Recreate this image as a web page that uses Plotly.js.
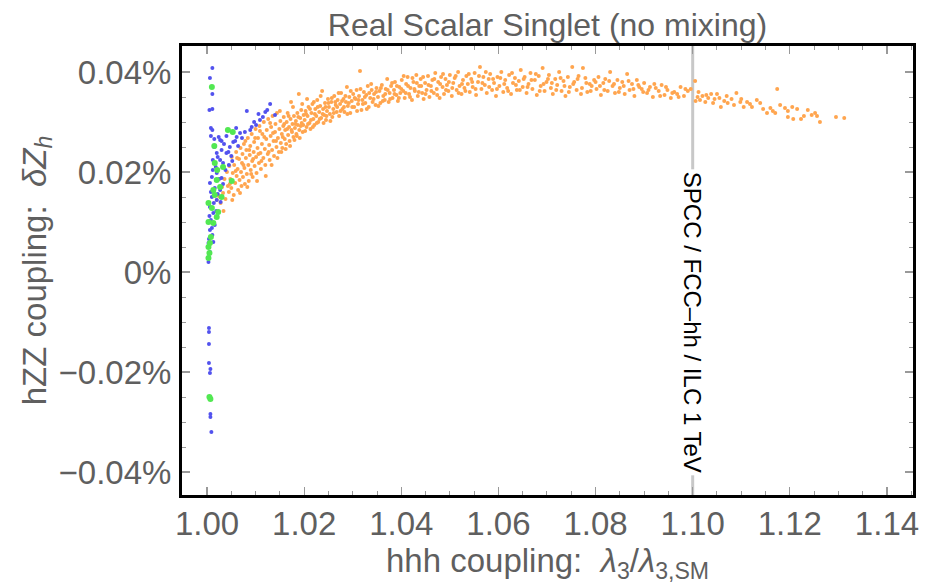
<!DOCTYPE html>
<html><head><meta charset="utf-8">
<script src="https://cdn.plot.ly/plotly-3.0.1.min.js"></script>
<style>html,body{margin:0;padding:0;background:#fff}</style>
</head><body><div id="chart" style="width:926px;height:587px"></div>
<script>
const chartTitle = "Real Scalar Singlet (no mixing)";
const xTitle = "hhh coupling:&nbsp; <i>λ</i><sub>3</sub>/<i>λ</i><sub>3,SM</sub>";
const yTitle = "hZZ coupling:&nbsp; <i>δZ<sub>h</sub></i>";
const xTickVals = [1.00, 1.02, 1.04, 1.06, 1.08, 1.10, 1.12, 1.14];
const xTickText = ["1.00", "1.02", "1.04", "1.06", "1.08", "1.10", "1.12", "1.14"];
const yTickVals = [-0.04, -0.02, 0, 0.02, 0.04];
const yTickText = ["−0.04%", "−0.02%", "0%", "0.02%", "0.04%"];
const refLineX = [1.10];
const refLineLabel = ["SPCC / FCC–hh / ILC 1 TeV"];

// [lambda3 ratio, deltaZh in %]
const orangePoints = [
[1.0020,0.0144],[1.0024,0.0152],[1.0028,0.0138],[1.0031,0.0170],[1.0033,0.0158],[1.0036,0.0186],[1.0038,0.0146],[1.0041,0.0200],[1.0043,0.0172],[1.0045,0.0160],
[1.0046,0.0212],[1.0048,0.0186],[1.0050,0.0168],[1.0051,0.0230],[1.0053,0.0198],[1.0055,0.0154],[1.0056,0.0214],[1.0058,0.0178],[1.0060,0.0240],[1.0061,0.0192],[1.0063,0.0206],[1.0064,0.0164],[1.0066,0.0226],[1.0067,0.0184],[1.0069,0.0248],[1.0070,0.0200],[1.0071,0.0172],[1.0072,0.0218],
[1.0073,0.0236],[1.0074,0.0190],[1.0076,0.0256],[1.0077,0.0208],[1.0078,0.0176],[1.0080,0.0228],[1.0081,0.0244],[1.0082,0.0196],[1.0084,0.0268],[1.0085,0.0214],[1.0086,0.0182],[1.0088,0.0234],[1.0089,0.0252],[1.0090,0.0204],[1.0092,0.0276],[1.0093,0.0222],[1.0094,0.0190],[1.0096,0.0240],[1.0097,0.0260],[1.0098,0.0212],[1.0100,0.0286],[1.0101,0.0230],
[1.0102,0.0198],[1.0104,0.0248],[1.0105,0.0268],[1.0107,0.0218],[1.0108,0.0292],[1.0110,0.0238],[1.0111,0.0206],[1.0113,0.0256],[1.0114,0.0276],[1.0116,0.0228],[1.0117,0.0300],[1.0119,0.0246],[1.0120,0.0214],[1.0122,0.0266],[1.0123,0.0284],[1.0125,0.0236],[1.0126,0.0306],[1.0128,0.0254],[1.0129,0.0224],[1.0131,0.0272],[1.0132,0.0290],[1.0134,0.0244],[1.0135,0.0312],[1.0137,0.0262],[1.0138,0.0232],[1.0140,0.0280],[1.0141,0.0296],[1.0143,0.0250],[1.0144,0.0318],[1.0146,0.0268],[1.0148,0.0240],[1.0149,0.0286],
[1.0151,0.0302],[1.0152,0.0258],[1.0154,0.0276],[1.0155,0.0248],[1.0157,0.0292],[1.0158,0.0310],[1.0160,0.0266],[1.0161,0.0284],[1.0163,0.0256],[1.0164,0.0300],[1.0166,0.0318],[1.0167,0.0274],[1.0169,0.0290],[1.0170,0.0262],[1.0172,0.0306],[1.0173,0.0340],[1.0175,0.0280],[1.0176,0.0296],[1.0178,0.0270],[1.0179,0.0312],[1.0181,0.0288],[1.0183,0.0302],[1.0184,0.0276],[1.0186,0.0318],[1.0187,0.0294],[1.0189,0.0356],[1.0190,0.0284],[1.0192,0.0308],[1.0194,0.0324],[1.0195,0.0298],[1.0197,0.0280],[1.0199,0.0314],
[1.0201,0.0304],[1.0203,0.0322],[1.0205,0.0290],[1.0207,0.0312],[1.0209,0.0330],[1.0211,0.0298],[1.0213,0.0286],[1.0215,0.0318],[1.0217,0.0336],[1.0219,0.0306],[1.0221,0.0294],[1.0223,0.0326],[1.0225,0.0312],[1.0227,0.0344],[1.0229,0.0300],[1.0231,0.0320],[1.0233,0.0332],[1.0235,0.0308],[1.0237,0.0362],[1.0239,0.0326],[1.0241,0.0314],[1.0243,0.0338],[1.0245,0.0304],[1.0247,0.0322],[1.0249,0.0346],
[1.0251,0.0330],[1.0253,0.0316],[1.0256,0.0340],[1.0258,0.0310],[1.0260,0.0326],[1.0262,0.0352],[1.0265,0.0334],[1.0267,0.0320],[1.0269,0.0344],[1.0272,0.0312],[1.0274,0.0336],[1.0276,0.0358],[1.0279,0.0326],[1.0281,0.0346],[1.0283,0.0320],[1.0286,0.0340],[1.0288,0.0370],[1.0290,0.0332],[1.0293,0.0350],[1.0295,0.0318],[1.0298,0.0342],
[1.0301,0.0356],[1.0303,0.0330],[1.0306,0.0346],[1.0308,0.0364],[1.0311,0.0336],[1.0313,0.0352],[1.0315,0.0402],[1.0318,0.0324],[1.0320,0.0344],[1.0323,0.0360],[1.0326,0.0338],[1.0328,0.0354],[1.0331,0.0372],[1.0333,0.0330],[1.0336,0.0348],[1.0339,0.0364],[1.0341,0.0340],[1.0344,0.0356],[1.0347,0.0334],[1.0349,0.0368],
[1.0352,0.0350],[1.0355,0.0362],[1.0357,0.0338],[1.0360,0.0374],[1.0363,0.0352],[1.0366,0.0344],[1.0368,0.0366],[1.0371,0.0386],[1.0374,0.0340],[1.0376,0.0358],[1.0379,0.0372],[1.0382,0.0348],[1.0385,0.0364],[1.0387,0.0380],[1.0390,0.0354],[1.0393,0.0342],[1.0396,0.0370],[1.0398,0.0358],
[1.0401,0.0384],[1.0404,0.0362],[1.0407,0.0348],[1.0410,0.0376],[1.0413,0.0390],[1.0416,0.0356],[1.0419,0.0368],[1.0422,0.0344],[1.0425,0.0380],[1.0428,0.0362],[1.0431,0.0394],[1.0434,0.0352],[1.0437,0.0372],[1.0440,0.0386],[1.0443,0.0358],[1.0446,0.0346],
[1.0449,0.0378],[1.0452,0.0364],[1.0455,0.0392],[1.0458,0.0350],[1.0461,0.0372],[1.0464,0.0384],[1.0467,0.0358],[1.0470,0.0398],[1.0473,0.0366],[1.0476,0.0380],[1.0479,0.0348],[1.0482,0.0390],[1.0485,0.0370],[1.0488,0.0356],[1.0491,0.0386],[1.0494,0.0374],[1.0497,0.0362],
[1.0500,0.0394],[1.0504,0.0352],[1.0507,0.0378],[1.0510,0.0388],[1.0514,0.0364],[1.0517,0.0400],[1.0520,0.0372],[1.0524,0.0356],[1.0527,0.0384],[1.0530,0.0368],[1.0534,0.0392],[1.0537,0.0376],[1.0541,0.0360],[1.0544,0.0386],[1.0547,0.0370],
[1.0551,0.0398],[1.0554,0.0354],[1.0558,0.0380],[1.0562,0.0410],[1.0565,0.0366],[1.0569,0.0390],[1.0572,0.0374],[1.0576,0.0358],[1.0580,0.0386],[1.0583,0.0396],[1.0587,0.0364],[1.0591,0.0378],[1.0595,0.0352],[1.0598,0.0390],
[1.0602,0.0372],[1.0606,0.0400],[1.0610,0.0360],[1.0614,0.0384],[1.0618,0.0368],[1.0622,0.0394],[1.0626,0.0356],[1.0630,0.0378],[1.0634,0.0388],[1.0638,0.0364],[1.0642,0.0382],[1.0646,0.0404],[1.0650,0.0370],
[1.0654,0.0390],[1.0658,0.0358],[1.0662,0.0376],[1.0666,0.0398],[1.0670,0.0366],[1.0675,0.0384],[1.0679,0.0354],[1.0683,0.0392],[1.0687,0.0372],[1.0691,0.0408],[1.0695,0.0362],[1.0699,0.0380],
[1.0704,0.0394],[1.0708,0.0368],[1.0712,0.0356],[1.0717,0.0386],[1.0721,0.0374],[1.0725,0.0400],[1.0730,0.0362],[1.0734,0.0382],[1.0738,0.0352],[1.0743,0.0390],[1.0747,0.0370],
[1.0752,0.0410],[1.0756,0.0380],[1.0761,0.0364],[1.0765,0.0392],[1.0770,0.0356],[1.0774,0.0408],[1.0779,0.0388],[1.0783,0.0360],[1.0788,0.0376],[1.0792,0.0372],[1.0797,0.0384],
[1.0802,0.0366],[1.0806,0.0390],[1.0811,0.0354],[1.0816,0.0378],[1.0820,0.0386],[1.0825,0.0362],[1.0830,0.0400],[1.0835,0.0372],[1.0840,0.0358],[1.0845,0.0384],
[1.0850,0.0368],[1.0855,0.0380],[1.0860,0.0356],[1.0865,0.0396],[1.0870,0.0364],[1.0875,0.0376],[1.0880,0.0352],[1.0885,0.0384],[1.0890,0.0370],[1.0895,0.0366],
[1.0900,0.0378],[1.0906,0.0358],[1.0912,0.0370],[1.0918,0.0350],[1.0924,0.0368],[1.0930,0.0362],[1.0936,0.0374],[1.0942,0.0354],[1.0948,0.0364],[1.0955,0.0348],[1.0962,0.0360],[1.0968,0.0356],[1.0975,0.0370],[1.0982,0.0352],[1.0990,0.0362],[1.0996,0.0366],
[1.1005,0.0382],[1.1006,0.0342],[1.1010,0.0350],[1.1015,0.0344],[1.1020,0.0352],[1.1026,0.0340],[1.1032,0.0348],[1.1038,0.0356],[1.1045,0.0346],[1.1050,0.0356],[1.1058,0.0330],[1.1065,0.0342],[1.1072,0.0338],[1.1080,0.0346],[1.1090,0.0358],[1.1098,0.0340],
[1.1105,0.0330],[1.1112,0.0340],[1.1122,0.0330],[1.1132,0.0344],[1.1139,0.0338],[1.1153,0.0318],[1.1160,0.0328],[1.1165,0.0322],[1.1174,0.0366],[1.1180,0.0334],[1.1196,0.0322],[1.1196,0.0310],[1.1205,0.0330],[1.1207,0.0306],[1.1215,0.0326],[1.1223,0.0306],[1.1229,0.0312],[1.1237,0.0324],[1.1252,0.0318],[1.1256,0.0312],[1.1262,0.0300],[1.1295,0.0310],[1.1312,0.0308],
[1.0034,0.0122],[1.0047,0.0176],[1.0052,0.0144],[1.0059,0.0202],[1.0062,0.0228],[1.0068,0.0158],[1.0075,0.0214],[1.0079,0.0262],[1.0083,0.0170],[1.0087,0.0244],[1.0091,0.0196],[1.0095,0.0226],[1.0099,0.0268],[1.0103,0.0182],[1.0106,0.0236],[1.0109,0.0282],[1.0112,0.0222],[1.0118,0.0270],[1.0121,0.0192],[1.0127,0.0240],[1.0130,0.0298],[1.0133,0.0214],[1.0136,0.0278],[1.0142,0.0262],[1.0145,0.0228],[1.0150,0.0322],[1.0153,0.0240],[1.0156,0.0270],[1.0159,0.0296],[1.0162,0.0246],[1.0165,0.0286],[1.0168,0.0312],[1.0171,0.0252],[1.0174,0.0284],[1.0177,0.0330],[1.0180,0.0264],[1.0182,0.0296],[1.0185,0.0272],[1.0188,0.0310],[1.0191,0.0268],[1.0193,0.0292],[1.0196,0.0336],[1.0198,0.0294],
[1.0202,0.0282],[1.0204,0.0316],[1.0206,0.0346],[1.0208,0.0296],[1.0212,0.0326],[1.0214,0.0304],[1.0218,0.0290],[1.0220,0.0340],[1.0222,0.0316],[1.0226,0.0298],[1.0228,0.0330],[1.0232,0.0306],[1.0234,0.0352],[1.0238,0.0316],[1.0240,0.0298],[1.0244,0.0330],[1.0246,0.0312],[1.0250,0.0338],[1.0254,0.0302],[1.0257,0.0348],[1.0261,0.0318],[1.0264,0.0340],[1.0268,0.0330],[1.0271,0.0358],[1.0275,0.0322],[1.0278,0.0342],[1.0282,0.0330],[1.0285,0.0352],[1.0289,0.0316],[1.0292,0.0338],[1.0296,0.0362],[1.0299,0.0330],
[1.0304,0.0348],[1.0309,0.0322],[1.0312,0.0344],[1.0316,0.0366],[1.0321,0.0336],[1.0325,0.0350],[1.0329,0.0326],[1.0334,0.0358],[1.0338,0.0376],[1.0343,0.0346],[1.0348,0.0360],[1.0353,0.0332],[1.0358,0.0368],[1.0362,0.0342],[1.0367,0.0356],[1.0372,0.0364],[1.0377,0.0346],[1.0381,0.0378],[1.0386,0.0356],[1.0391,0.0372],[1.0395,0.0348],
[1.0400,0.0366],[1.0405,0.0392],[1.0409,0.0358],[1.0414,0.0372],[1.0418,0.0350],[1.0423,0.0388],[1.0427,0.0366],[1.0432,0.0378],[1.0436,0.0360],[1.0441,0.0372],[1.0445,0.0390],[1.0450,0.0356],[1.0456,0.0374],[1.0462,0.0362],[1.0468,0.0386],[1.0474,0.0354],[1.0480,0.0376],[1.0486,0.0396],[1.0492,0.0364],[1.0498,0.0380],
[1.0505,0.0368],[1.0512,0.0392],[1.0518,0.0358],[1.0525,0.0376],[1.0532,0.0362],[1.0539,0.0396],[1.0546,0.0380],[1.0553,0.0366],[1.0560,0.0392],[1.0567,0.0378],[1.0574,0.0400],[1.0581,0.0370],[1.0589,0.0386],[1.0597,0.0366],
[1.0604,0.0388],[1.0612,0.0376],[1.0620,0.0362],[1.0628,0.0398],[1.0636,0.0374],[1.0644,0.0364],[1.0652,0.0386],[1.0660,0.0370],[1.0668,0.0384],[1.0677,0.0396],[1.0685,0.0362],[1.0693,0.0376],
[1.0702,0.0386],[1.0710,0.0378],[1.0719,0.0364],[1.0728,0.0388],[1.0736,0.0372],[1.0745,0.0360],[1.0754,0.0376],[1.0763,0.0386],[1.0772,0.0368],[1.0781,0.0378],[1.0790,0.0362],
[1.0800,0.0380],[1.0809,0.0372],[1.0818,0.0364],[1.0828,0.0382],[1.0838,0.0376],[1.0848,0.0360],[1.0858,0.0372],[1.0868,0.0382],[1.0878,0.0366],[1.0888,0.0374],[1.0898,0.0360],
[1.0909,0.0364],[1.0921,0.0376],[1.0933,0.0352],[1.0945,0.0370],[1.0958,0.0358],[1.0971,0.0350],[1.0985,0.0366],[1.1012,0.0360],[1.1028,0.0354],[1.1042,0.0338],[1.1055,0.0348],[1.1070,0.0352],[1.1085,0.0334],[1.1100,0.0346],[1.1118,0.0336],[1.1145,0.0326],[1.1170,0.0318],[1.1190,0.0328],[1.1245,0.0314]
];

const bluePoints = [
[1.0011,0.0408],[1.0006,0.0388],[1.0011,0.0356],[1.0005,0.0324],[1.0011,0.0326],[1.0082,0.0322],[1.0008,0.0288],[1.0011,0.0284],[1.0008,0.0272],[1.0015,0.0266],[1.0024,0.0270],[1.0027,0.0264],
[1.0130,0.0336],[1.0124,0.0324],[1.0140,0.0314],[1.0115,0.0310],[1.0109,0.0304],[1.0101,0.0294],[1.0089,0.0284],[1.0078,0.0280],[1.0068,0.0278],[1.0061,0.0270],[1.0054,0.0260],[1.0047,0.0250],[1.0040,0.0238],[1.0030,0.0244],[1.0020,0.0238],
[1.0012,0.0224],[1.0027,0.0224],[1.0033,0.0218],[1.0012,0.0204],[1.0020,0.0198],[1.0010,0.0190],[1.0030,0.0188],[1.0006,0.0178],[1.0016,0.0168],[1.0027,0.0164],[1.0010,0.0150],[1.0020,0.0144],[1.0006,0.0130],[1.0013,0.0118],[1.0008,0.0104],[1.0016,0.0094],[1.0006,0.0084],[1.0011,0.0074],[1.0003,0.0058],[1.0003,0.0020],
[1.0015,0.0250],[1.0022,0.0230],[1.0035,0.0256],[1.0044,0.0240],[1.0050,0.0232],[1.0058,0.0262],[1.0064,0.0252],[1.0072,0.0268],[1.0018,0.0210],[1.0025,0.0186],[1.0038,0.0204],[1.0045,0.0214],[1.0008,0.0160],[1.0022,0.0156],[1.0033,0.0176],[1.0014,0.0138],[1.0028,0.0140],[1.0005,0.0112],[1.0019,0.0122],[1.0010,0.0088],[1.0004,0.0066],[1.0013,0.0060],[1.0006,0.0040],[1.0004,0.0030],
[1.0097,0.0300],[1.0106,0.0316],[1.0092,0.0290],[1.0120,0.0320],[1.0060,0.0288],[1.0040,0.0272],[1.0030,0.0262],[1.0052,0.0222],
[1.0004,-0.0112],[1.0004,-0.0120],[1.0004,-0.0144],[1.0004,-0.0182],[1.0007,-0.0194],[1.0006,-0.0202],[1.0007,-0.0284],[1.0007,-0.0290],[1.0009,-0.0320]
];

const greenPoints = [
[1.0010,0.0370],[1.0043,0.0284],[1.0053,0.0280],[1.0015,0.0252],[1.0016,0.0218],[1.0033,0.0210],[1.0021,0.0204],[1.0051,0.0182],[1.0020,0.0184],[1.0027,0.0170],[1.0013,0.0164],[1.0016,0.0154],[1.0030,0.0150],[1.0003,0.0138],[1.0010,0.0128],[1.0023,0.0120],[1.0020,0.0110],[1.0003,0.0100],[1.0013,0.0098],[1.0008,0.0070],[1.0006,0.0058],[1.0003,0.0050],[1.0005,0.0038],[1.0003,0.0028],[1.0007,-0.0254],[1.0005,-0.0250]
];

const font = "Liberation Sans, Arial, Helvetica, sans-serif";
const textGray = "#5f5f5f";
function trace(pts, color, size) {
  return {type: "scatter", mode: "markers", x: pts.map(p => p[0]), y: pts.map(p => p[1]),
    marker: {color: color, size: size, line: {width: 0}}, hoverinfo: "skip", showlegend: false};
}
const data = [
  trace(orangePoints, "#ffa54f", 4),
  trace(bluePoints, "#5252ee", 4),
  trace(greenPoints, "#52e852", 6)
];
const axisCommon = {
  showgrid: false, zeroline: false, showline: true, linecolor: "#000", linewidth: 3, mirror: "allticks",
  ticks: "inside", ticklen: 8, tickwidth: 1.2, tickcolor: "#999", tickmode: "array",
  tickfont: {family: font, size: 33, color: textGray}, automargin: false
};
const layout = {
  width: 926, height: 587, paper_bgcolor: "#fff", plot_bgcolor: "#fff",
  margin: {l: 182, r: 13, t: 46, b: 92},
  font: {family: font, color: textGray},
  title: {text: chartTitle, font: {family: font, size: 32, color: textGray}, xref: "paper", x: 0.5, xanchor: "center", yref: "container", y: 0.957, yanchor: "middle"},
  xaxis: Object.assign({}, axisCommon, {
    range: [0.99485, 1.14536], tickvals: xTickVals, ticktext: xTickText, ticklabelstandoff: -3,
    minor: {tickmode: "linear", tick0: 1.0, dtick: 0.005, ticks: "inside", ticklen: 4, tickcolor: "#999", tickwidth: 1},
    title: {text: xTitle, font: {family: font, size: 33, color: textGray}, standoff: 0}
  }),
  yaxis: Object.assign({}, axisCommon, {
    range: [-0.0446, 0.0452], tickvals: yTickVals, ticktext: yTickText, ticklabelstandoff: 1,
    minor: {tickmode: "linear", tick0: 0, dtick: 0.005, ticks: "inside", ticklen: 4, tickcolor: "#999", tickwidth: 1},
    title: {text: yTitle, font: {family: font, size: 33, color: textGray}, standoff: 3}
  }),
  shapes: refLineX.map(v => ({type: "line", xref: "x", yref: "paper", x0: v, x1: v, y0: 0, y1: 1, layer: "below", line: {color: "#c8c8c8", width: 3}})),
  annotations: refLineX.map((v, i) => ({xref: "x", yref: "y", x: v, y: -0.0101, text: refLineLabel[i], showarrow: false, textangle: 90, bgcolor: "#fff", borderpad: 2, font: {family: font, size: 24, color: "#000"}}))
};
Plotly.newPlot("chart", data, layout, {staticPlot: true, displayModeBar: false});
</script>
</body></html>
